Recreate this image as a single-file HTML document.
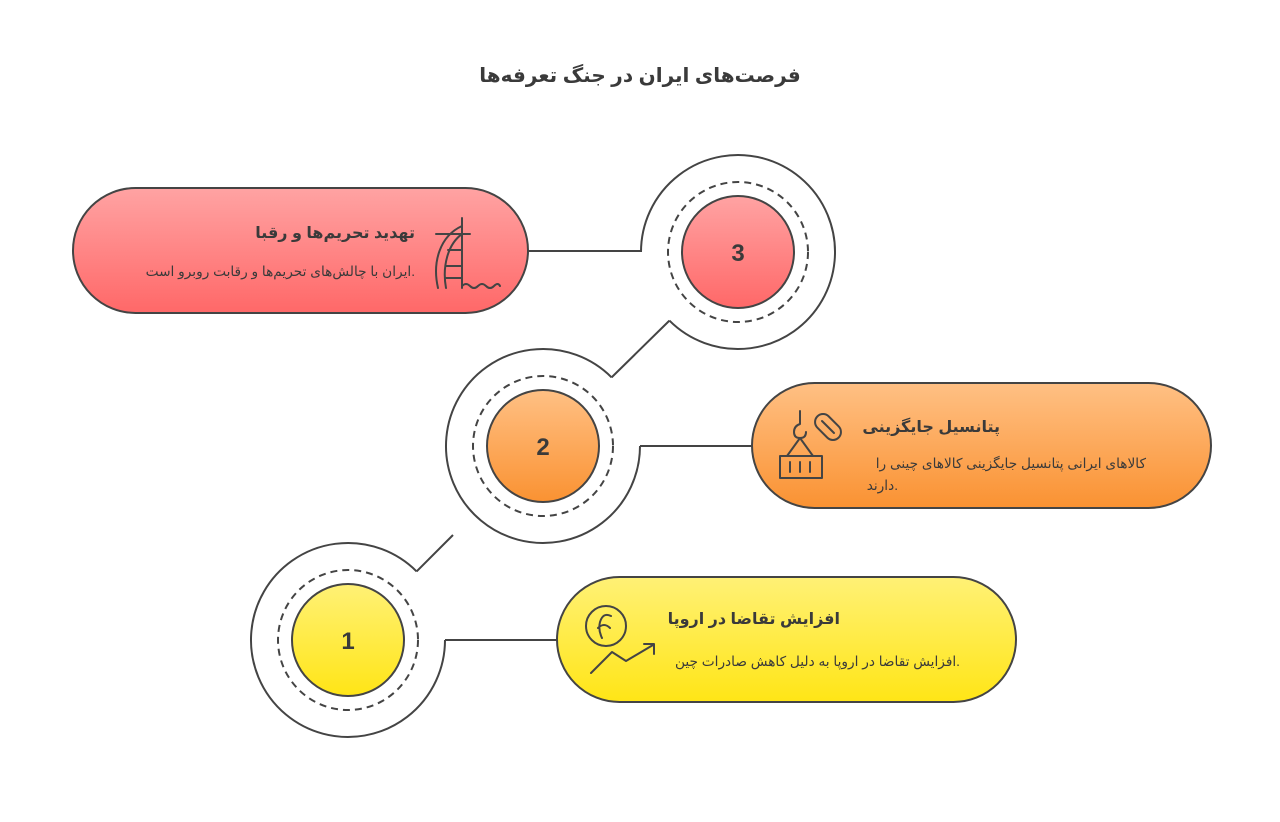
<!DOCTYPE html>
<html><head><meta charset="utf-8"><style>
body{margin:0;background:#fff;}
svg{display:block;}
text{font-family:"Liberation Sans","DejaVu Sans",sans-serif;fill:#3a3a3a;}
</style></head><body>
<svg width="1280" height="822" viewBox="0 0 1280 822" xmlns="http://www.w3.org/2000/svg">
<defs>
<linearGradient id="gr" x1="0" y1="0" x2="0" y2="1"><stop offset="0" stop-color="#ffa3a3"/><stop offset="1" stop-color="#ff6868"/></linearGradient>
<linearGradient id="go" x1="0" y1="0" x2="0" y2="1"><stop offset="0" stop-color="#ffc084"/><stop offset="1" stop-color="#fa9232"/></linearGradient>
<linearGradient id="gy" x1="0" y1="0" x2="0" y2="1"><stop offset="0" stop-color="#fff176"/><stop offset="1" stop-color="#ffe516"/></linearGradient>
</defs>
<text x="640" y="82" text-anchor="middle" font-size="20" font-weight="bold" direction="rtl">فرصت‌های ایران در جنگ تعرفه‌ها</text>

<g fill="none" stroke="#444" stroke-width="2">
<path d="M641,252 A97,97 0 1 1 669.4,320.6"/>
<path d="M640,446 A97,97 0 1 1 611.6,377.4"/>
<path d="M445,640 A97,97 0 1 1 416.6,571.4"/>
<line x1="669.4" y1="320.6" x2="611.6" y2="377.4"/>
<line x1="453" y1="535" x2="416.6" y2="571.4"/>
<line x1="528" y1="251" x2="641" y2="251"/>
<line x1="752" y1="446" x2="640" y2="446"/>
<line x1="557" y1="640" x2="445" y2="640"/>
<circle cx="738" cy="252" r="70" stroke-dasharray="7,5"/>
<circle cx="543" cy="446" r="70" stroke-dasharray="7,5"/>
<circle cx="348" cy="640" r="70" stroke-dasharray="7,5"/>
</g>
<g stroke="#444" stroke-width="2">
<circle cx="738" cy="252" r="56" fill="url(#gr)"/>
<circle cx="543" cy="446" r="56" fill="url(#go)"/>
<circle cx="348" cy="640" r="56" fill="url(#gy)"/>
<rect x="73" y="188" width="455" height="125" rx="62.5" fill="url(#gr)"/>
<rect x="752" y="383" width="459" height="125" rx="62.5" fill="url(#go)"/>
<rect x="557" y="577" width="459" height="125" rx="62.5" fill="url(#gy)"/>
</g>
<g font-size="24" font-weight="bold" text-anchor="middle">
<text x="738" y="261">3</text><text x="543" y="455">2</text><text x="348" y="649">1</text>
</g>

<g direction="rtl" text-anchor="start">
<text x="415" y="238" font-size="16" font-weight="bold">تهدید تحریم‌ها و رقبا</text>
<text x="415" y="276" font-size="13.7">.ایران با چالش‌های تحریم‌ها و رقابت روبرو است</text>
<text x="1000" y="432" font-size="16" font-weight="bold">پتانسیل جایگزینی</text>
<text x="1146" y="468" font-size="13.7">کالاهای ایرانی پتانسیل جایگزینی کالاهای چینی را</text>
<text x="898" y="490" font-size="13.7">.دارند</text>
<text x="840" y="624" font-size="16" font-weight="bold">افزایش تقاضا در اروپا</text>
<text x="960" y="666" font-size="13.7">.افزایش تقاضا در اروپا به دلیل کاهش صادرات چین</text>
</g>

<g fill="none" stroke="#444" stroke-width="2" stroke-linecap="round" stroke-linejoin="round">
<path d="M462,218 V288 M438,288 C432,262 440,236 462,226 M446,288 C442,266 448,244 462,234 M436,234 H470 M448,250 H462 M446,266 H462 M446,278 H462 M462,286 q4,-4 8,0 q4,4 8,0 q4,-4 8,0 q4,4 8,0 q4,-4 6,0"/>
<path d="M800,411 V424 q-6,2 -6,8 q0,6 6,6 q6,0 6,-6 M800,438 L787,456 M800,438 L813,456 M780,456 H822 V478 H780 Z M790,462 V472 M800,462 V472 M810,462 V472"/>
<rect x="820" y="412" width="16" height="30" rx="8" transform="rotate(-45 828 427)"/>
<path d="M822,421 L834,433"/>
<circle cx="606" cy="626" r="20"/>
<path d="M611,616 q-8,-4 -11,6 q-2,8 2,16 M598,628 q6,-6 12,0"/>
<path d="M591,673 L612,652 L626,661 L653,645 M644,644 H654 V654"/>
</g>
</svg>
</body></html>
